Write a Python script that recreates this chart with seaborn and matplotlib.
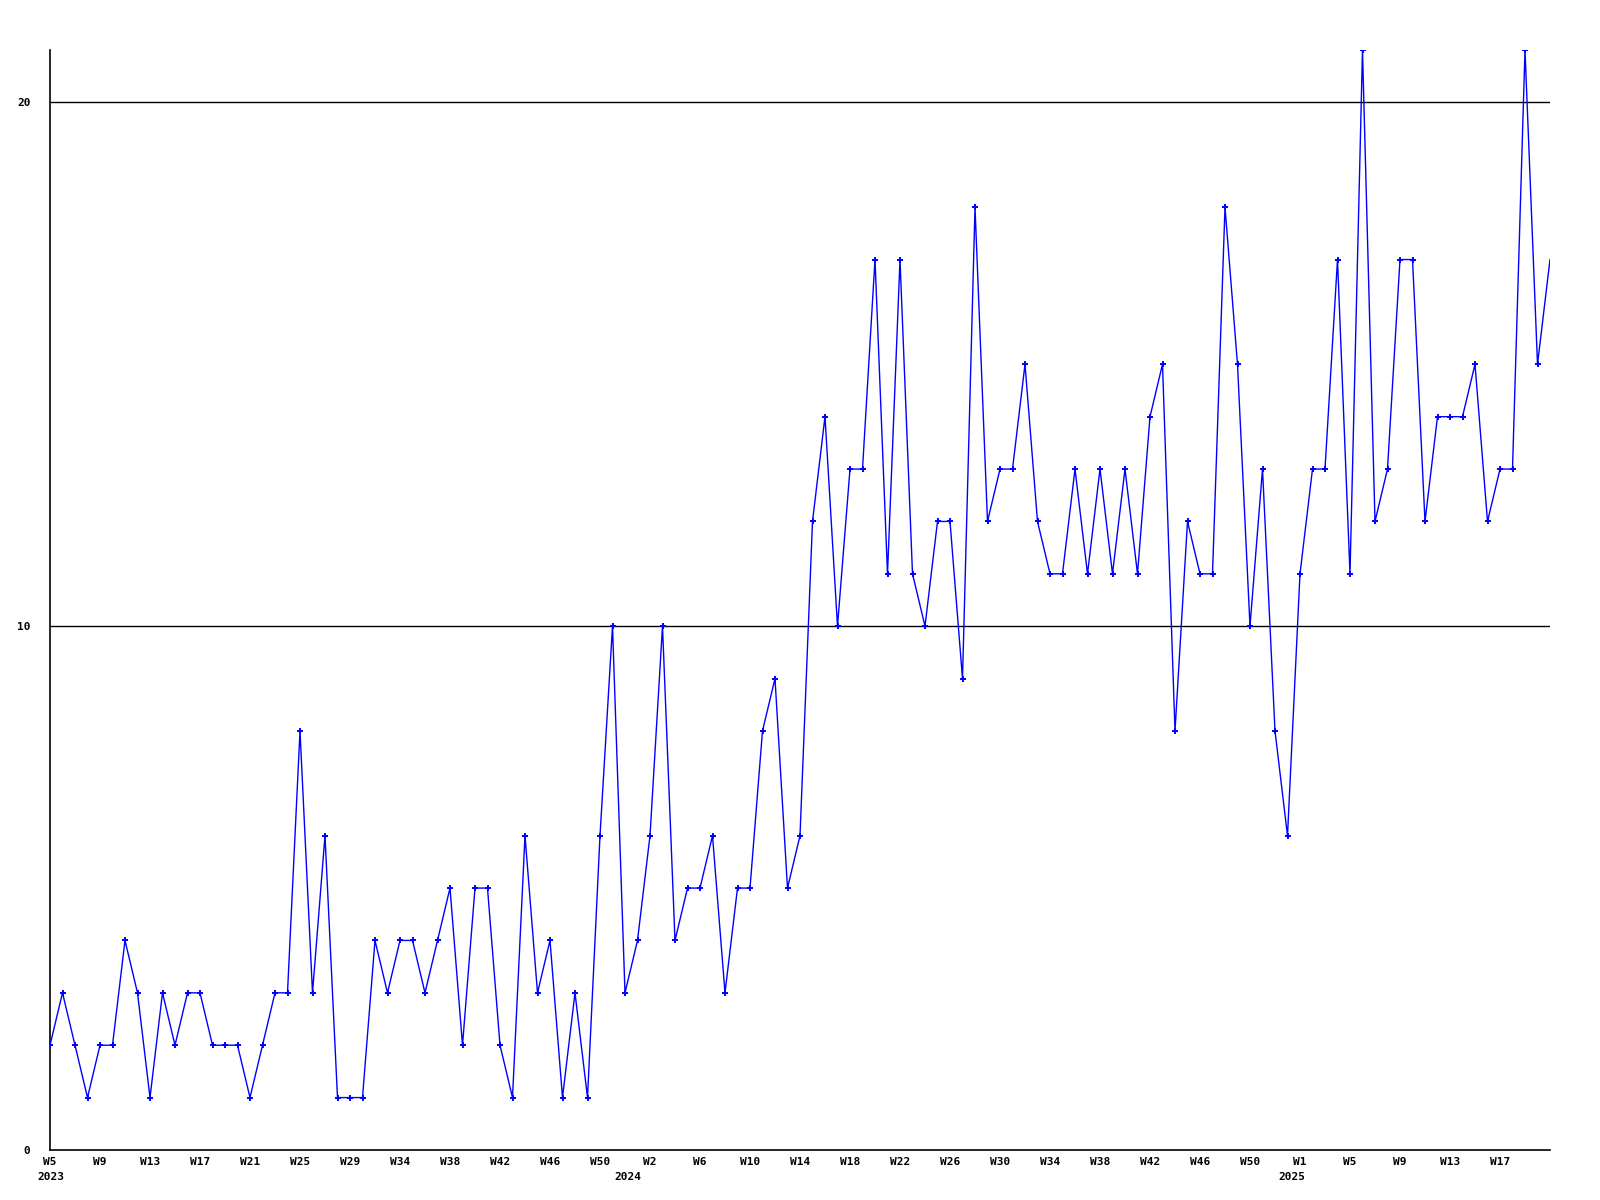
import numpy as np
import pandas as pd
import seaborn as sns
import matplotlib
matplotlib.use('Agg')
import matplotlib.pyplot as plt

# weekly counts, 2023 W5 .. 2025 W21
values = [2, 3, 2, 1, 2, 2, 4, 3, 1, 3, 2, 3, 3, 2, 2, 2, 1, 2, 3, 3,
          8, 3, 6, 1, 1, 1, 4, 3, 4, 4, 3, 4, 5, 2, 5, 5, 2, 1, 6, 3,
          4, 1, 3, 1, 6, 10, 3, 4, 6, 10, 4, 5, 5, 6, 3, 5, 5, 8, 9, 5,
          6, 12, 14, 10, 13, 13, 17, 11, 17, 11, 10, 12, 12, 9, 18, 12, 13, 13, 15, 12,
          11, 11, 13, 11, 13, 11, 13, 11, 14, 15, 8, 12, 11, 11, 18, 15, 10, 13, 8, 6,
          11, 13, 13, 17, 11, 21, 12, 13, 17, 17, 12, 14, 14, 14, 15, 12, 13, 13, 21, 15,
          17]

week_labels = ['W5', 'W9', 'W13', 'W17', 'W21', 'W25', 'W29', 'W34', 'W38', 'W42',
               'W46', 'W50', 'W2', 'W6', 'W10', 'W14', 'W18', 'W22', 'W26', 'W30',
               'W34', 'W38', 'W42', 'W46', 'W50', 'W1', 'W5', 'W9', 'W13', 'W17']
years = ['2023', '2024', '2025']
year_pos = [0, 48, 100]

data = pd.DataFrame({'week': np.arange(len(values)), 'count': values})

sns.set_style('white')
plt.rcParams['font.family'] = ['DejaVu Sans Mono']
plt.rcParams['text.color'] = 'black'
plt.rcParams['xtick.color'] = 'black'
plt.rcParams['ytick.color'] = 'black'

fig = plt.figure(figsize=(16, 12), dpi=100)
ax = fig.add_axes([0.03125, 0.0417, 0.9375, 0.9166])

for y in [10, 20]:
    ax.axhline(y, color='black', lw=1, zorder=1)

sns.lineplot(x='week', y='count', data=data, ax=ax, color='#0000ff', lw=1,
             marker='+', markersize=4, markeredgewidth=1.4, markeredgecolor='#0000ff',
             markevery=list(range(len(values) - 1)), zorder=3)

ax.set_xlim(0, len(values) - 1)
ax.set_ylim(0, 21)
ax.set_xticks(np.arange(0, len(values), 4)[:len(week_labels)])
ax.set_xticklabels(week_labels, fontsize=8, fontweight='bold')
ax.set_yticks([0, 10, 20])
ax.set_yticklabels(['0', '10', '20'], fontsize=8, fontweight='bold')
ax.tick_params(axis='x', length=0, pad=5)
ax.tick_params(axis='y', length=0, pad=14)
ax.set_xlabel('')
ax.set_ylabel('')

for s in ['top', 'right']:
    ax.spines[s].set_visible(False)
for s in ['left', 'bottom']:
    ax.spines[s].set_color('black')
    ax.spines[s].set_linewidth(1.2)

# year labels under the first week of each year
offsets = [(-9, 'left'), (-6, 'right'), (4, 'right')]
for yr, pos, (dx, ha) in zip(years, year_pos, offsets):
    ax.annotate(yr, xy=(pos, 0), xycoords=('data', 'axes fraction'),
                xytext=(dx, -16), textcoords='offset points',
                ha=ha, va='top', fontsize=8, fontweight='bold')

fig.savefig('out.png', dpi=100)
